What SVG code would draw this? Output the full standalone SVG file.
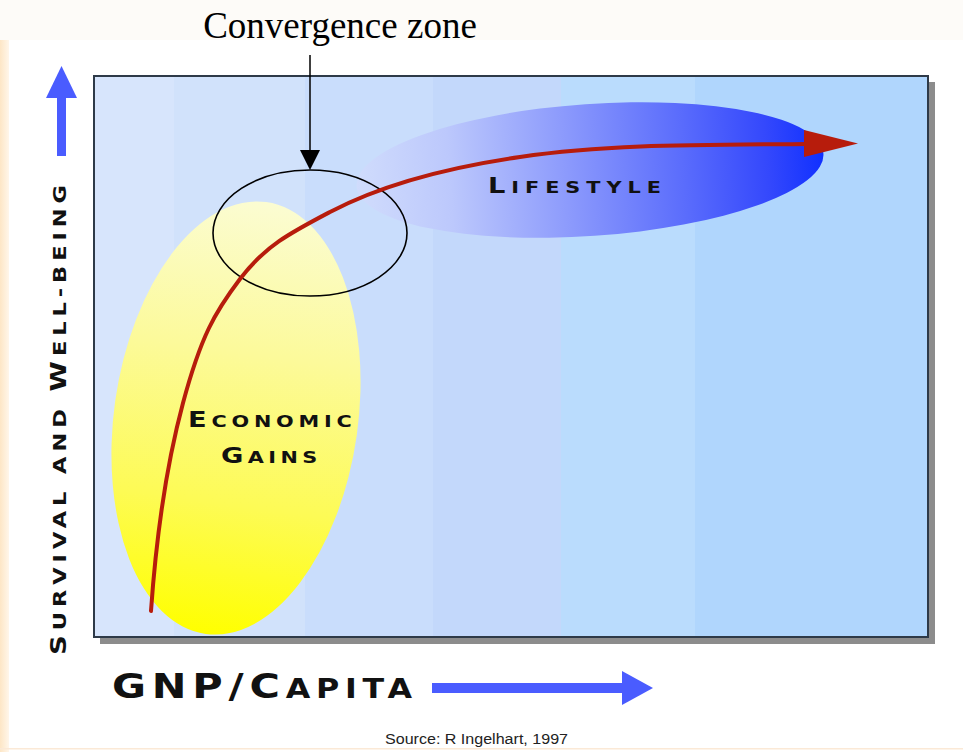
<svg xmlns="http://www.w3.org/2000/svg" width="963" height="752" viewBox="0 0 963 752">
<defs>
<style>
.cap{font-family:"DejaVu Sans","Liberation Sans",sans-serif;font-weight:bold;fill:#111;}
.conv{font-family:"Liberation Serif","Times New Roman",serif;font-size:37px;fill:#000;}
.src{font-family:"Liberation Sans",Arial,sans-serif;font-size:14px;fill:#222;}
.axisArrow{fill:#4a5cff;}
</style>
<linearGradient id="peach" x1="0" y1="0" x2="1" y2="0">
<stop offset="0" stop-color="#fde6c6"/>
<stop offset="1" stop-color="#fff6ea"/>
</linearGradient>
<linearGradient id="yellow" x1="0" y1="0" x2="0" y2="1">
<stop offset="0" stop-color="#fbfcd2"/>
<stop offset="0.35" stop-color="#fcfa9a"/>
<stop offset="0.7" stop-color="#fdfb55"/>
<stop offset="1" stop-color="#ffff00"/>
</linearGradient>
<linearGradient id="blue" gradientUnits="userSpaceOnUse" x1="356" y1="0" x2="824" y2="0">
<stop offset="0" stop-color="#d0dcfc"/>
<stop offset="0.2" stop-color="#bcc8fc"/>
<stop offset="0.45" stop-color="#8c9afc"/>
<stop offset="0.7" stop-color="#5a6cfc"/>
<stop offset="0.88" stop-color="#3448fc"/>
<stop offset="1" stop-color="#1030ff"/>
</linearGradient>
</defs>

<rect x="0" y="0" width="963" height="752" fill="#ffffff"/>
<rect x="0" y="0" width="963" height="40" fill="#fdfbf8"/>
<rect x="0" y="40" width="9" height="712" fill="url(#peach)"/>
<rect x="0" y="748" width="963" height="1.5" fill="#fbe9d6"/>

<g id="frame">
<rect x="100" y="82" width="835" height="562" fill="#8c8c8c"/>
<rect x="94" y="76" width="834" height="561" fill="#d7e5fc"/>
<rect x="174" y="77" width="131" height="559" fill="#d1e2fb"/>
<rect x="305" y="77" width="128" height="559" fill="#c9ddfc"/>
<rect x="433" y="77" width="128" height="559" fill="#c3d8fb"/>
<rect x="561" y="77" width="134" height="559" fill="#badcfd"/>
<rect x="695" y="77" width="233" height="559" fill="#b0d6fd"/>
<rect x="94" y="76" width="834" height="561" fill="none" stroke="#2e3a48" stroke-width="2"/>
</g>

<g id="economic-gains">
<ellipse cx="236" cy="418" rx="122" ry="218" transform="rotate(8 236 418)" fill="url(#yellow)"/>
<text class="cap" transform="translate(188 427) scale(1.3 1)" x="0" y="0" textLength="126" lengthAdjust="spacing"><tspan font-size="21">E</tspan><tspan font-size="16">CONOMIC</tspan></text>
<text class="cap" transform="translate(221 463) scale(1.3 1)" x="0" y="0" textLength="74" lengthAdjust="spacing"><tspan font-size="21">G</tspan><tspan font-size="16">AINS</tspan></text>
</g>

<g id="lifestyle">
<ellipse cx="590" cy="170" rx="234" ry="66" transform="rotate(-4 590 170)" fill="url(#blue)"/>
<text class="cap" transform="translate(488 193) scale(1.3 1)" x="0" y="0" textLength="133" lengthAdjust="spacing"><tspan font-size="21">L</tspan><tspan font-size="16">IFESTYLE</tspan></text>
</g>

<g id="convergence-zone">
<ellipse cx="310" cy="233" rx="97" ry="63" fill="none" stroke="#000" stroke-width="1.6"/>
<text class="conv" x="340" y="38" text-anchor="middle">Convergence zone</text>
</g>

<g id="y-axis">
<rect class="axisArrow" x="57" y="96" width="9" height="60"/>
<path class="axisArrow" d="M61.5,66 L77,98 L46,98 Z"/>
<text class="cap" transform="translate(66 655) rotate(-90) scale(1.25 1)" x="0" y="0" textLength="376" lengthAdjust="spacing"><tspan font-size="22">S</tspan><tspan font-size="18">URVIVAL AND </tspan><tspan font-size="22">W</tspan><tspan font-size="18">ELL-BEING</tspan></text>
</g>

<g id="x-axis">
<text class="cap" transform="translate(112 698) scale(1.22 1)" x="0" y="0" textLength="246" lengthAdjust="spacing"><tspan font-size="34">GNP/C</tspan><tspan font-size="26">APITA</tspan></text>
<rect class="axisArrow" x="432" y="683" width="192" height="10"/>
<path class="axisArrow" d="M622,671 L653,688 L622,705 Z"/>
</g>

<g id="connectors">
<path d="M151,611 C156,540 165,470 183,403 S 215,312 240,279 S 290,233 330,212 S 430,170 520,157 S 700,145 808,144" fill="none" stroke="#b71c0c" stroke-width="4" stroke-linecap="round"/>
<path d="M804,130 L858,143.5 L804,157 Z" fill="#b71c0c"/>
<line x1="310" y1="55" x2="310" y2="152" stroke="#000" stroke-width="1.5"/>
<path d="M300,150 L320,150 L310,170 Z" fill="#000"/>
</g>

<text class="src" x="385" y="744" textLength="183" lengthAdjust="spacingAndGlyphs">Source: R Ingelhart, 1997</text>
</svg>
